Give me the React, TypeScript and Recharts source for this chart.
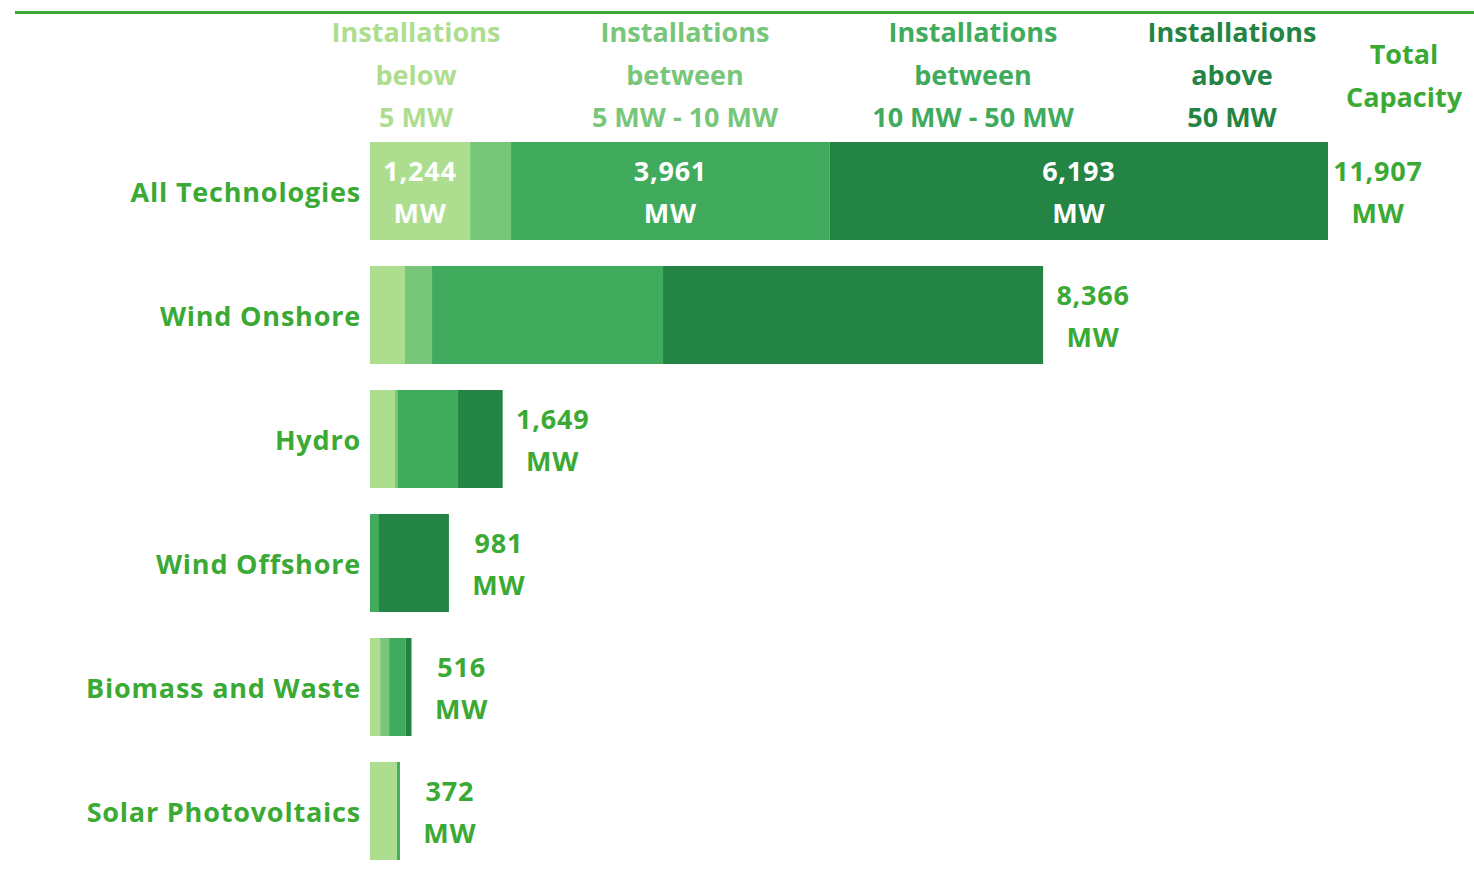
import React from "react";
import { BarChart, Bar, XAxis, YAxis, LabelList } from "recharts";

const categories = [
  "All Technologies",
  "Wind Onshore",
  "Hydro",
  "Wind Offshore",
  "Biomass and Waste",
  "Solar Photovoltaics",
];
const below5 = [1244, 435, 311, 0, 126, 336];
const between5and10 = [509, 336, 37, 0, 112, 0];
const between10and50 = [3961, 2871, 746, 112, 203, 36];
const above50 = [6193, 4724, 555, 869, 75, 0];
const totals = [11907, 8366, 1649, 981, 516, 372];

const headers = [
  ["Installations", "below", "5 MW"],
  ["Installations", "between", "5 MW - 10 MW"],
  ["Installations", "between", "10 MW - 50 MW"],
  ["Installations", "above", "50 MW"],
];
const totalHeader = ["Total", "Capacity"];

const SERIES = ["below5", "between5and10", "between10and50", "above50"];
// YlGn-ish palette
const COLORS = ["#addd8e", "#78c679", "#41ab5d", "#238443"];
const TEXT_GREEN = "#3aaa35";
const FONT = "'Open Sans', Lato, sans-serif";
const FONT_SIZE = 27;

const data = categories.map((name, i) => {
  const vals = [below5[i], between5and10[i], between10and50[i], above50[i]];
  // total label goes on the last segment that actually has a width
  let last = 0;
  vals.forEach((v, k) => {
    if (v > 0) last = k;
  });
  const row: Record<string, any> = { name };
  SERIES.forEach((s, k) => {
    row[s] = vals[k];
    row[s + "Total"] = k === last ? totals[i] : null;
    // values printed inside the bar only on the first row (not the 5-10 MW one)
    row[s + "Label"] = i === 0 && k !== 1 ? vals[k] : null;
  });
  return row;
});

const fmt = (v: number) => v.toLocaleString("en-US");

function TwoLine({ cx, cy, value, fill }: { cx: number; cy: number; value: number; fill: string }) {
  return (
    <text
      x={cx}
      y={cy}
      textAnchor="middle"
      fill={fill}
      fontFamily={FONT}
      fontWeight={700}
      fontSize={FONT_SIZE}
      letterSpacing={0.8}
    >
      <tspan x={cx} y={cy - 21} dominantBaseline="central">
        {fmt(value)}
      </tspan>
      <tspan x={cx} y={cy + 21} dominantBaseline="central">
        MW
      </tspan>
    </text>
  );
}

function InsideLabel(props: any) {
  const { x, y, width, height, value } = props;
  if (value === null || value === undefined) return null;
  return <TwoLine cx={x + width / 2} cy={y + height / 2} value={value} fill="#ffffff" />;
}

function TotalLabel(props: any) {
  const { x, y, width, height, value } = props;
  if (value === null || value === undefined) return null;
  return <TwoLine cx={x + width + 50} cy={y + height / 2} value={value} fill={TEXT_GREEN} />;
}

function CategoryTick(props: any) {
  const { x, y, payload } = props;
  return (
    <text
      x={x - 1}
      y={y}
      textAnchor="end"
      dominantBaseline="central"
      fill={TEXT_GREEN}
      fontFamily={FONT}
      fontWeight={700}
      fontSize={FONT_SIZE}
      letterSpacing={0.8}
    >
      {payload.value}
    </text>
  );
}

const headerCenters = [416, 685, 973, 1232];

export default function App() {
  return (
    <div style={{ position: "absolute", left: 0, top: 0, width: 1474, height: 877, background: "#fff" }}>
      <div
        style={{
          position: "absolute",
          left: 15,
          top: 11,
          width: 1459,
          height: 3,
          background: TEXT_GREEN,
        }}
      />
      {headers.map((lines, i) => (
        <div
          key={i}
          style={{
            position: "absolute",
            left: headerCenters[i] - 130,
            top: 11,
            width: 260,
            textAlign: "center",
            fontFamily: FONT,
            fontWeight: 700,
            fontSize: FONT_SIZE,
            lineHeight: "42.5px",
            color: COLORS[i],
          }}
        >
          {lines.map((l) => (
            <div key={l}>{l}</div>
          ))}
        </div>
      ))}
      <div
        style={{
          position: "absolute",
          left: 1404 - 80,
          top: 32,
          width: 160,
          textAlign: "center",
          fontFamily: FONT,
          fontWeight: 700,
          fontSize: FONT_SIZE,
          lineHeight: "43px",
          color: TEXT_GREEN,
        }}
      >
        {totalHeader.map((l) => (
          <div key={l}>{l}</div>
        ))}
      </div>
      <BarChart
        width={1474}
        height={877}
        data={data}
        layout="vertical"
        margin={{ top: 129, right: 146, bottom: 4, left: 0 }}
        barSize={98}
        style={{ position: "absolute", left: 0, top: 0 }}
      >
        <XAxis type="number" hide domain={[0, Math.max(...totals)]} />
        <YAxis
          type="category"
          dataKey="name"
          width={370}
          axisLine={false}
          tickLine={false}
          tick={<CategoryTick />}
        />
        {SERIES.map((s, k) => (
          <Bar key={s} dataKey={s} stackId="a" fill={COLORS[k]} isAnimationActive={false}>
            <LabelList dataKey={s + "Label"} content={<InsideLabel />} />
            <LabelList dataKey={s + "Total"} content={<TotalLabel />} />
          </Bar>
        ))}
      </BarChart>
    </div>
  );
}
